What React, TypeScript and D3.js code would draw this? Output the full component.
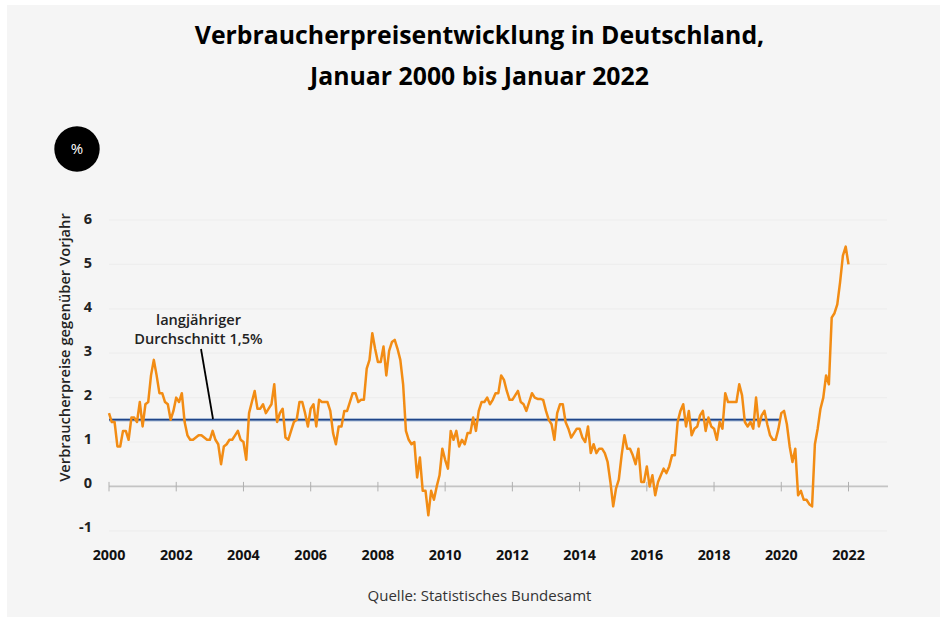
import React from "react";
import * as d3 from "d3";

const titleLines = ["Verbraucherpreisentwicklung in Deutschland,", "Januar 2000 bis Januar 2022"];
const yTicks = [-1, 0, 1, 2, 3, 4, 5, 6];
const xTicks = [2000, 2002, 2004, 2006, 2008, 2010, 2012, 2014, 2016, 2018, 2020, 2022];
const avgValue = 1.5;
const avgStart = 2000;
const avgEnd = 2019.95;
const inflation2000 = [1.65, 1.45, 1.45, 0.9, 0.9, 1.25, 1.25, 1.05, 1.55, 1.55, 1.45, 1.9];
const inflation2001 = [1.35, 1.85, 1.9, 2.5, 2.85, 2.5, 2.1, 2.1, 1.9, 1.85, 1.5, 1.7];
const inflation2002 = [2.0, 1.9, 2.1, 1.45, 1.15, 1.05, 1.05, 1.1, 1.15, 1.15, 1.1, 1.05];
const inflation2003 = [1.05, 1.25, 1.05, 0.95, 0.5, 0.9, 0.95, 1.05, 1.05, 1.15, 1.25, 1.05];
const inflation2004 = [1.0, 0.6, 1.65, 1.9, 2.15, 1.75, 1.75, 1.85, 1.65, 1.75, 1.85, 2.3];
const inflation2005 = [1.45, 1.65, 1.75, 1.1, 1.05, 1.25, 1.45, 1.5, 1.9, 1.9, 1.65, 1.35];
const inflation2006 = [1.75, 1.85, 1.35, 1.95, 1.9, 1.9, 1.9, 1.7, 1.2, 0.95, 1.35, 1.35];
const inflation2007 = [1.7, 1.7, 1.9, 2.1, 2.1, 1.9, 1.95, 1.95, 2.65, 2.85, 3.45, 3.1];
const inflation2008 = [2.8, 2.8, 3.15, 2.5, 3.05, 3.25, 3.3, 3.1, 2.85, 2.3, 1.25, 1.05];
const inflation2009 = [0.95, 1.0, 0.2, 0.65, -0.1, -0.1, -0.65, -0.1, -0.3, 0.0, 0.25, 0.85];
const inflation2010 = [0.6, 0.4, 1.25, 1.05, 1.25, 0.9, 1.05, 0.95, 1.2, 1.2, 1.55, 1.25];
const inflation2011 = [1.7, 1.9, 1.9, 2.0, 1.85, 1.95, 2.1, 2.1, 2.5, 2.4, 2.15, 1.95];
const inflation2012 = [1.95, 2.05, 2.15, 1.9, 1.85, 1.7, 1.9, 2.1, 2.0, 1.97, 1.97, 1.95];
const inflation2013 = [1.7, 1.5, 1.4, 1.05, 1.65, 1.85, 1.85, 1.45, 1.3, 1.1, 1.2, 1.3];
const inflation2014 = [1.3, 1.1, 1.0, 1.35, 0.75, 0.95, 0.75, 0.85, 0.85, 0.75, 0.55, 0.1];
const inflation2015 = [-0.45, -0.05, 0.15, 0.7, 1.15, 0.85, 0.85, 0.7, 0.5, 0.85, 0.1, 0.1];
const inflation2016 = [0.45, 0.0, 0.25, -0.2, 0.1, 0.25, 0.4, 0.3, 0.45, 0.7, 0.7, 1.45];
const inflation2017 = [1.7, 1.85, 1.35, 1.7, 1.15, 1.3, 1.35, 1.6, 1.7, 1.25, 1.55, 1.35];
const inflation2018 = [1.3, 1.05, 1.45, 1.3, 2.1, 1.9, 1.9, 1.9, 1.9, 2.3, 2.05, 1.45];
const inflation2019 = [1.35, 1.45, 1.3, 2.0, 1.35, 1.6, 1.7, 1.4, 1.15, 1.05, 1.05, 1.3];
const inflation2020 = [1.65, 1.7, 1.4, 0.9, 0.55, 0.85, -0.2, -0.1, -0.3, -0.3, -0.4, -0.45];
const inflation2021 = [0.95, 1.3, 1.75, 2.0, 2.5, 2.3, 3.8, 3.9, 4.1, 4.6, 5.2, 5.4];
const inflation2022 = [5.0];
const inflation = [
  ...inflation2000, ...inflation2001, ...inflation2002, ...inflation2003, ...inflation2004, ...inflation2005,
  ...inflation2006, ...inflation2007, ...inflation2008, ...inflation2009, ...inflation2010, ...inflation2011,
  ...inflation2012, ...inflation2013, ...inflation2014, ...inflation2015, ...inflation2016, ...inflation2017,
  ...inflation2018, ...inflation2019, ...inflation2020, ...inflation2021, ...inflation2022,
];

const FONT = "'Open Sans', 'Noto Sans', sans-serif";
const x = d3.scaleLinear().domain([2000, 2022]).range([109, 848.5]);
const y = d3.scaleLinear().domain([0, 6]).range([486.4, 220]);
// The reference's tick labels drift slightly from the gridlines.
const yLabel = d3.scaleLinear().domain([0, 6]).range([483, 219.3]);

export default function App() {
  const line = d3
    .line<number>()
    .x((_, i) => x(2000 + i / 12))
    .y((d) => y(d))
    .curve(d3.curveLinear);
  return (
    <svg width={940} height={617} style={{ position: "absolute", left: 0, top: 0, background: "#fff" }} fontFamily={FONT}>
      <rect x={7} y={5} width={933} height={612} fill="#f5f5f5" />
      {titleLines.map((t, i) => (
        <text key={t} x={479.5} y={44 + i * 41} textAnchor="middle" fontSize={24.8} fontWeight={700} fill="#000">
          {t}
        </text>
      ))}
      <circle cx={77} cy={149} r={22.7} fill="#000" />
      <text x={77} y={153.5} textAnchor="middle" fontSize={15} fontWeight={500} fill="#fff">%</text>

      {yTicks.filter((t) => t !== 0).map((t) => (
        <line key={t} x1={109} x2={887} y1={y(t)} y2={y(t)} stroke="#eeeeee" strokeWidth={1.2} />
      ))}
      <line x1={109} x2={888} y1={y(0)} y2={y(0)} stroke="#c4c4c4" strokeWidth={1.6} />
      {xTicks.map((t) => (
        <line key={t} x1={x(t)} x2={x(t)} y1={y(0) - 4.5} y2={y(0) + 5} stroke="#b0b0b0" strokeWidth={1} />
      ))}
      {yTicks.map((t) => (
        <text key={t} x={92} y={yLabel(t) + 5} textAnchor="end" fontSize={14.5} fontWeight={700} fill="#222">{t}</text>
      ))}
      {xTicks.map((t) => (
        <text key={t} x={x(t)} y={559.5} textAnchor="middle" fontSize={14.3} fontWeight={700} fill="#111">{t}</text>
      ))}
      <text transform="translate(69.5,347.5) rotate(-90)" textAnchor="middle" fontSize={14.7} fontWeight={600} fill="#222">
        Verbraucherpreise gegenüber Vorjahr
      </text>

      <line x1={x(avgStart)} x2={x(avgEnd)} y1={y(avgValue)} y2={y(avgValue)} stroke="#a9bcd6" strokeWidth={3.4} />
      <line x1={x(avgStart)} x2={x(avgEnd)} y1={y(avgValue)} y2={y(avgValue)} stroke="#1f4488" strokeWidth={1.6} />
      <path d={line(inflation) ?? ""} fill="none" stroke="#f28c14" strokeWidth={2.5} strokeLinejoin="round" />

      <line x1={201} x2={213} y1={349} y2={419} stroke="#000" strokeWidth={1.8} />
      <text x={198.5} y={324.5} textAnchor="middle" fontSize={14.6} fontWeight={600} fill="#222">langjähriger</text>
      <text x={198.5} y={343.5} textAnchor="middle" fontSize={14.6} fontWeight={600} fill="#222">Durchschnitt 1,5%</text>

      <text x={479.5} y={601} textAnchor="middle" fontSize={15} fill="#333">Quelle: Statistisches Bundesamt</text>
    </svg>
  );
}
